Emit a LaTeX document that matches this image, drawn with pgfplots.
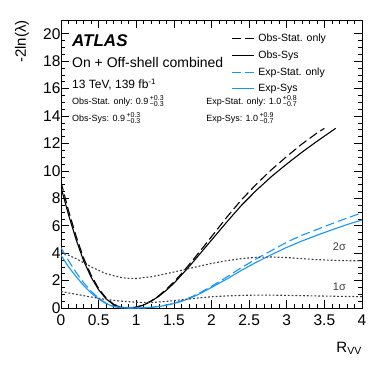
\documentclass[border=0pt]{standalone}
\usepackage{fontspec}
\setmainfont{Liberation Sans}
\usepackage{pgfplots}
\pgfplotsset{compat=1.18}
\definecolor{expblue}{RGB}{20,150,255}
\definecolor{sigmagray}{RGB}{60,60,60}
\newcommand\unc[2]{\,$^{\mbox{\fontsize{7}{7}\selectfont #1}}_{\mbox{\fontsize{7}{7}\selectfont #2}}$}

\begin{document}
\begin{tikzpicture}
\path[use as bounding box] (-61pt,-59pt) rectangle (321pt,308pt);
\begin{axis}[
    at={(0pt,0pt)}, anchor=south west,
    scale only axis, width=301pt, height=288pt,
    xmin=0, xmax=4, ymin=0, ymax=21,
    xtick={0,0.5,...,4}, ytick={0,2,...,20},
    minor x tick num=4, minor y tick num=3,
    tick align=inside, tick pos=both,
    major tick length=8pt, minor tick length=4pt,
    every tick/.style={black, line width=0.6pt},
    axis line style={line width=0.8pt},
    tick label style={font=\fontsize{15.5}{15.5}\selectfont},
    /pgf/number format/assume math mode=true,
    xticklabel style={yshift=-3pt},
    yticklabel style={xshift=3pt},
    xlabel={R\textsubscript{VV}},
    xlabel style={at={(axis description cs:1,-0.139)}, anchor=east, inner sep=0pt, font=\fontsize{15}{15}\selectfont},
    ylabel={-2ln(λ)},
    ylabel style={at={(axis description cs:-0.13,1)}, anchor=east, inner sep=0pt, font=\fontsize{15}{15}\selectfont},
    legend style={draw=none, fill=none, at={(axis description cs:0.565,0.958)}, anchor=north west,
        font=\fontsize{10.5}{12}\selectfont, row sep=3.6pt, inner sep=0pt, column sep=2pt},
    legend cell align={left},
    legend image code/.code={\draw[#1, line width=1.2pt] (0pt,0pt) -- (22pt,0pt);},
]

% Obs-Stat. only
\addplot[black, line width=1.1pt, dash pattern=on 9pt off 4pt] coordinates {
    (0,9.2) (0.1,7.1) (0.2,5.25) (0.3,3.65) (0.4,2.4) (0.5,1.42) (0.6,0.72) (0.7,0.27)
    (0.8,0.05) (0.9,0) (1.0,0.06) (1.1,0.23) (1.2,0.52) (1.3,0.9) (1.4,1.37) (1.5,1.9)
    (1.6,2.5) (1.7,3.15) (1.8,3.82) (1.9,4.5) (2.0,5.2) (2.2,6.6) (2.4,7.9) (2.6,9.05)
    (2.8,10.1) (3.0,11.05) (3.2,11.95) (3.4,12.75) (3.5,13.1)
};
\addlegendentry{Obs-Stat. only}

% Obs-Sys
\addplot[black, line width=1.1pt] coordinates {
    (0,8.8) (0.1,6.8) (0.2,5.0) (0.3,3.45) (0.4,2.25) (0.5,1.33) (0.6,0.66) (0.7,0.24)
    (0.8,0.04) (0.9,0) (1.0,0.06) (1.1,0.22) (1.2,0.5) (1.3,0.85) (1.4,1.3) (1.5,1.8)
    (1.6,2.4) (1.7,3.0) (1.8,3.65) (1.9,4.3) (2.0,4.95) (2.2,6.25) (2.4,7.5) (2.6,8.6)
    (2.8,9.6) (3.0,10.5) (3.2,11.35) (3.4,12.15) (3.65,13.1)
};
\addlegendentry{Obs-Sys}

% Exp-Stat. only
\addplot[expblue, line width=1.1pt, dash pattern=on 9pt off 4pt] coordinates {
    (0,4.4) (0.1,3.45) (0.2,2.6) (0.3,1.85) (0.4,1.22) (0.5,0.72) (0.6,0.35) (0.7,0.12)
    (0.8,0.03) (0.9,0) (1.0,0) (1.1,0.01) (1.2,0.05) (1.3,0.12) (1.4,0.22) (1.5,0.35)
    (1.6,0.52) (1.7,0.73) (1.8,0.98) (1.9,1.27) (2.0,1.58) (2.2,2.25) (2.4,2.95)
    (2.6,3.6) (2.8,4.2) (3.0,4.8) (3.2,5.3) (3.4,5.72) (3.6,6.15) (3.8,6.55) (4.0,6.95)
};
\addlegendentry{Exp-Stat. only}

% Exp-Sys
\addplot[expblue, line width=1.1pt] coordinates {
    (0,3.85) (0.1,3.0) (0.2,2.3) (0.3,1.65) (0.4,1.1) (0.5,0.65) (0.6,0.32) (0.7,0.1)
    (0.8,0.02) (0.9,0) (1.0,0) (1.1,0.01) (1.2,0.04) (1.3,0.11) (1.4,0.2) (1.5,0.32)
    (1.6,0.48) (1.7,0.68) (1.8,0.92) (1.9,1.2) (2.0,1.5) (2.2,2.1) (2.4,2.75)
    (2.6,3.35) (2.8,3.9) (3.0,4.42) (3.2,4.88) (3.4,5.3) (3.6,5.7) (3.8,6.08) (4.0,6.42)
};
\addlegendentry{Exp-Sys}

% 2 sigma and 1 sigma reference curves
\addplot[sigmagray, line width=1.1pt, dash pattern=on 1.8pt off 2pt, forget plot] coordinates {
    (0,4.1) (0.2,3.6) (0.4,3.0) (0.6,2.5) (0.8,2.22) (0.9,2.16) (1.0,2.15) (1.2,2.28)
    (1.4,2.5) (1.6,2.75) (1.8,3.0) (2.0,3.25) (2.2,3.45) (2.4,3.6) (2.6,3.7) (2.8,3.72)
    (3.0,3.68) (3.2,3.6) (3.4,3.53) (3.6,3.48) (3.8,3.45) (4.0,3.44)
};
\addplot[sigmagray, line width=1.1pt, dash pattern=on 1.8pt off 2pt, forget plot] coordinates {
    (0,1.2) (0.2,1.0) (0.4,0.8) (0.6,0.62) (0.8,0.5) (1.0,0.42) (1.2,0.4) (1.4,0.48)
    (1.6,0.6) (1.8,0.72) (2.0,0.82) (2.2,0.88) (2.4,0.92) (2.6,0.94) (2.8,0.94)
    (3.0,0.92) (3.4,0.88) (3.8,0.84) (4.0,0.83)
};

\node[anchor=west, inner sep=0pt, font=\fontsize{17}{17}\selectfont\bfseries\itshape] at (axis description cs:0.0365,0.930) {ATLAS};
\node[anchor=west, inner sep=0pt, font=\fontsize{14}{14}\selectfont] at (axis description cs:0.0365,0.851) {On + Off-shell combined};
\node[anchor=west, inner sep=0pt, font=\fontsize{12}{12}\selectfont] at (axis description cs:0.0365,0.776) {13 TeV, 139 fb\textsuperscript{-1}};
\node[anchor=west, inner sep=0pt, font=\fontsize{9}{9}\selectfont] at (axis description cs:0.0365,0.718) {Obs-Stat. only: 0.9\unc{+0.3}{−0.3}};
\node[anchor=west, inner sep=0pt, font=\fontsize{9}{9}\selectfont] at (axis description cs:0.0365,0.659) {Obs-Sys: 0.9\unc{+0.3}{−0.3}};
\node[anchor=west, inner sep=0pt, font=\fontsize{9}{9}\selectfont] at (axis description cs:0.482,0.718) {Exp-Stat. only: 1.0\unc{+0.8}{−0.7}};
\node[anchor=west, inner sep=0pt, font=\fontsize{9}{9}\selectfont] at (axis description cs:0.482,0.659) {Exp-Sys: 1.0\unc{+0.9}{−0.7}};
\node[sigmagray, font=\fontsize{11}{11}\selectfont] at (axis cs:3.7,4.46) {2σ};
\node[sigmagray, font=\fontsize{11}{11}\selectfont] at (axis cs:3.7,1.55) {1σ};
\end{axis}
\end{tikzpicture}
\end{document}
